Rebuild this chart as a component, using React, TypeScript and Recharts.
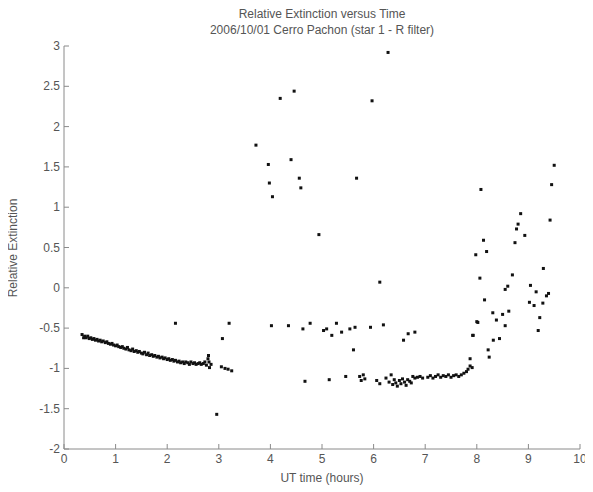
import React from 'react';
import { ScatterChart, Scatter, XAxis, YAxis } from 'recharts';

// UT time (hours) and relative extinction
const earlyTime = [
  0.35, 0.38, 0.40, 0.43, 0.46, 0.49, 0.52, 0.55, 0.58, 0.61, 0.64, 0.67, 0.70, 0.73, 0.76, 0.80,
  0.83, 0.86, 0.90, 0.93, 0.96, 1.00, 1.03, 1.06, 1.10, 1.13, 1.16, 1.20, 1.23, 1.26, 1.30, 1.33,
  1.36, 1.40, 1.43, 1.46, 1.50, 1.53, 1.56, 1.60, 1.63, 1.66, 1.70, 1.73, 1.76, 1.80, 1.83, 1.86,
  1.90, 1.93, 1.96, 2.00, 2.03, 2.06, 2.10, 2.13, 2.16, 2.20, 2.23, 2.26, 2.30, 2.33, 2.36, 2.40,
  2.43, 2.46, 2.50, 2.53, 2.56, 2.60, 2.63, 2.66, 2.70, 2.73, 2.76, 2.79, 2.80, 2.81, 2.82, 2.85,
  3.05, 3.12, 3.18, 3.25, 3.07, 2.16, 3.20, 2.96,
];
const earlyExt = [
  -0.58, -0.62, -0.60, -0.62, -0.60, -0.63, -0.62, -0.64, -0.63, -0.65, -0.64, -0.66, -0.65, -0.67, -0.66, -0.68,
  -0.67, -0.69, -0.70, -0.69, -0.71, -0.72, -0.71, -0.73, -0.74, -0.73, -0.75, -0.76, -0.74, -0.77, -0.78, -0.76,
  -0.79, -0.78, -0.80, -0.79, -0.81, -0.82, -0.80, -0.83, -0.81, -0.84, -0.83, -0.85, -0.84, -0.86, -0.85, -0.87,
  -0.86, -0.88, -0.87, -0.89, -0.88, -0.90, -0.89, -0.91, -0.90, -0.92, -0.91, -0.93, -0.92, -0.94, -0.92, -0.93,
  -0.95, -0.92, -0.94, -0.93, -0.95, -0.94, -0.93, -0.95, -0.94, -0.92, -0.96, -0.88, -0.84, -0.92, -0.99, -0.95,
  -0.98, -1.00, -1.01, -1.03, -0.63, -0.44, -0.44, -1.57,
];

const highTime = [4.46, 4.19, 5.97, 6.28, 3.72, 4.40, 3.96, 4.56, 5.67, 3.98, 4.59, 4.04, 4.94, 6.12];
const highExt = [2.44, 2.35, 2.32, 2.92, 1.77, 1.59, 1.53, 1.36, 1.36, 1.30, 1.24, 1.13, 0.66, 0.07];

const midTime = [
  4.02, 4.35, 4.63, 4.77, 5.03, 5.09, 5.19, 5.28, 5.38, 5.54, 5.64, 5.94, 6.19, 5.61, 6.58, 6.67, 6.80,
];
const midExt = [
  -0.47, -0.47, -0.51, -0.44, -0.53, -0.51, -0.59, -0.44, -0.55, -0.51, -0.49, -0.49, -0.46, -0.77, -0.65, -0.57, -0.55,
];

const lowTime = [
  4.67, 5.14, 5.46, 5.73, 5.76, 5.80, 5.83, 6.06, 6.12, 6.24, 6.30, 6.34, 6.37, 6.40, 6.43, 6.46,
  6.50, 6.53, 6.56, 6.60, 6.63, 6.66, 6.70, 6.73, 6.76, 6.80, 6.85, 6.90, 6.95, 7.05, 7.10, 7.15,
  7.20, 7.25, 7.30, 7.35, 7.40, 7.45, 7.50, 7.55, 7.60, 7.65, 7.70, 7.75, 7.80, 7.83, 7.87, 7.87,
];
const lowExt = [
  -1.16, -1.14, -1.10, -1.10, -1.15, -1.08, -1.13, -1.15, -1.19, -1.12, -1.17, -1.08, -1.20, -1.14, -1.18, -1.22,
  -1.15, -1.19, -1.13, -1.17, -1.21, -1.14, -1.16, -1.18, -1.10, -1.12, -1.11, -1.10, -1.12, -1.11, -1.09, -1.12,
  -1.10, -1.08, -1.11, -1.09, -1.10, -1.08, -1.11, -1.09, -1.08, -1.10, -1.08, -1.06, -1.04, -1.01, -0.97, -0.88,
];

const lateTime = [
  9.50, 9.45, 8.08, 9.42, 8.85, 8.80, 8.77, 8.93, 8.13, 8.74, 8.19, 7.98, 9.29, 8.69, 8.06, 8.60,
  8.55, 9.04, 9.15, 9.39, 9.35, 8.15, 9.02, 9.11, 9.28, 8.31, 8.62, 8.50, 8.38, 8.55, 8.02, 9.22,
  9.19, 7.92, 8.32, 8.44, 8.22, 8.24, 7.91, 7.93, 8.00,
];
const lateExt = [
  1.52, 1.28, 1.22, 0.84, 0.92, 0.79, 0.73, 0.65, 0.59, 0.56, 0.45, 0.41, 0.24, 0.16, 0.12, 0.02,
  -0.02, 0.03, -0.05, -0.07, -0.10, -0.15, -0.18, -0.22, -0.19, -0.31, -0.29, -0.33, -0.40, -0.47, -0.43, -0.37,
  -0.53, -0.59, -0.65, -0.63, -0.77, -0.86, -0.99, -0.59, -0.42,
];

const xTicks = [0, 1, 2, 3, 4, 5, 6, 7, 8, 9, 10];
const yTicks = [-2, -1.5, -1, -0.5, 0, 0.5, 1, 1.5, 2, 2.5, 3];

const allTime = [...earlyTime, ...highTime, ...midTime, ...lowTime, ...lateTime];
const allExt = [...earlyExt, ...highExt, ...midExt, ...lowExt, ...lateExt];
const points = allTime.map((t, i) => ({ t, ext: allExt[i] }));

const AXIS = '#8a8a8a';
const TEXT = '#555';
const FONT = '"Liberation Sans", Arial, sans-serif';

const BottomTick = (props: any) => {
  const { x, y, payload } = props;
  return (
    <g>
      <line x1={x} y1={y} x2={x} y2={y - 5} stroke={AXIS} />
      <text x={x} y={y + 14} textAnchor="middle" fontSize={12} fill={TEXT} fontFamily={FONT}>
        {payload.value}
      </text>
    </g>
  );
};

const TopTick = (props: any) => {
  const { x, y } = props;
  return <line x1={x} y1={y} x2={x} y2={y + 5} stroke={AXIS} />;
};

const LeftTick = (props: any) => {
  const { x, y, payload } = props;
  return (
    <g>
      <line x1={x} y1={y} x2={x + 5} y2={y} stroke={AXIS} />
      <text x={x - 4} y={y + 4} textAnchor="end" fontSize={12} fill={TEXT} fontFamily={FONT}>
        {payload.value}
      </text>
    </g>
  );
};

const RightTick = (props: any) => {
  const { x, y } = props;
  return <line x1={x} y1={y} x2={x - 5} y2={y} stroke={AXIS} />;
};

const Dot = (props: any) => {
  const { cx, cy } = props;
  return <rect x={cx - 1.5} y={cy - 1.5} width={3} height={3} fill="#111" />;
};

export default function App() {
  return (
    <div style={{ position: 'relative', width: 585, height: 484, fontFamily: FONT, color: TEXT }}>
      <ScatterChart width={585} height={476} margin={{ top: 38, right: 13, left: 0, bottom: 0 }}>
        <XAxis
          dataKey="t" type="number" domain={[0, 10]} ticks={xTicks} interval={0}
          height={35} tickSize={0} tickMargin={0} tickLine={false}
          axisLine={{ stroke: AXIS }} tick={<BottomTick />} allowDataOverflow
        />
        <XAxis
          xAxisId="top" orientation="top" dataKey="t" type="number" domain={[0, 10]} ticks={xTicks}
          interval={0} height={0} tickSize={0} tickMargin={0} tickLine={false}
          axisLine={{ stroke: AXIS }} tick={<TopTick />} allowDataOverflow
        />
        <YAxis
          dataKey="ext" type="number" domain={[-2, 3]} ticks={yTicks} interval={0}
          width={56} tickSize={0} tickMargin={0} tickLine={false}
          axisLine={{ stroke: AXIS }} tick={<LeftTick />} allowDataOverflow
        />
        <YAxis
          yAxisId="right" orientation="right" dataKey="ext" type="number" domain={[-2, 3]} ticks={yTicks}
          interval={0} width={0} tickSize={0} tickMargin={0} tickLine={false}
          axisLine={{ stroke: AXIS }} tick={<RightTick />} allowDataOverflow
        />
        <Scatter data={points} shape={<Dot />} isAnimationActive={false} />
      </ScatterChart>
      <div style={{ position: 'absolute', zIndex: 2, left: 0, width: 628, top: -2, textAlign: 'center', fontSize: 12, lineHeight: '16px' }}>
        Relative Extinction versus Time
        <br />
        2006/10/01 Cerro Pachon (star 1 - R filter)
      </div>
      <div style={{ position: 'absolute', zIndex: 2, left: 0, width: 628, top: 463, textAlign: 'center', fontSize: 12 }}>
        UT time (hours)
      </div>
      <div
        style={{
          position: 'absolute', zIndex: 2, left: 5, top: 240, fontSize: 12, whiteSpace: 'nowrap',
          transform: 'translate(-50%, -50%) rotate(-90deg)', transformOrigin: 'center',
        }}
      >
        Relative Extinction
      </div>
    </div>
  );
}
